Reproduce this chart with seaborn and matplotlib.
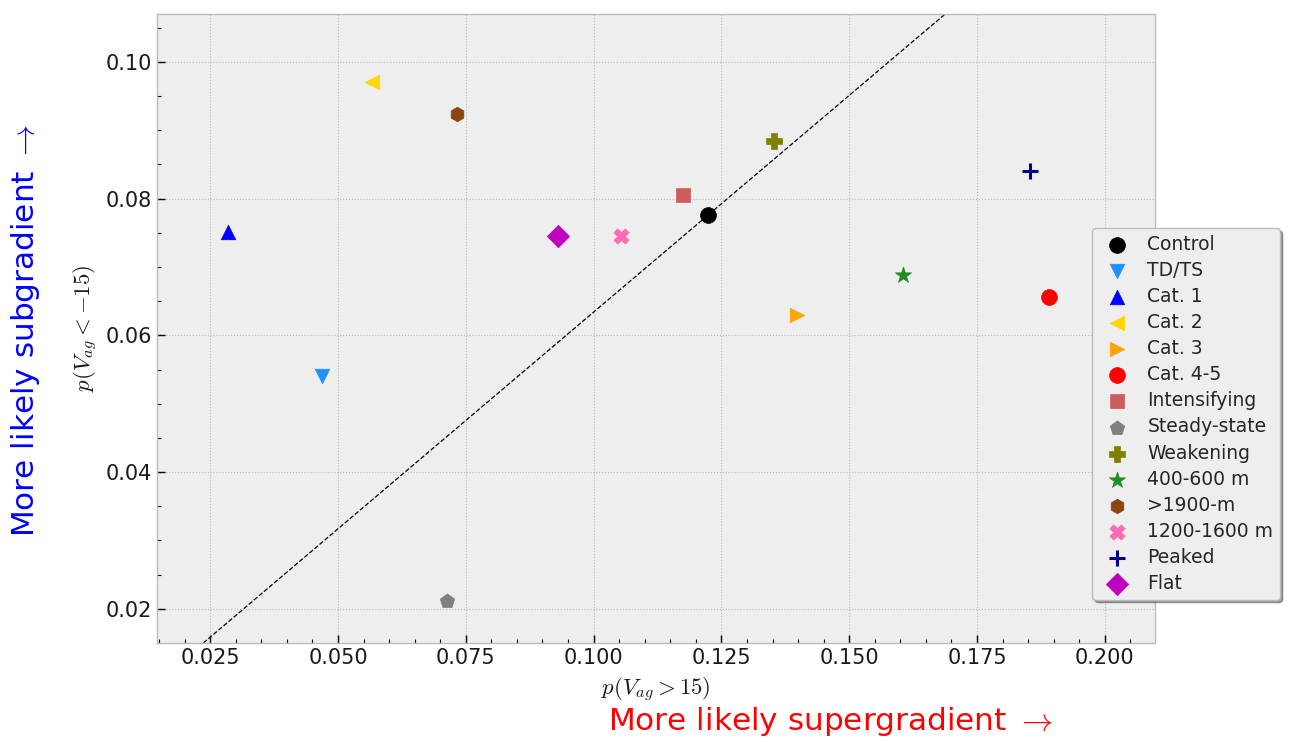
import matplotlib
matplotlib.use("Agg")
import matplotlib.pyplot as plt
import seaborn as sns
import numpy as np
from matplotlib.ticker import MultipleLocator

categories = ["Control", "TD/TS", "Cat. 1", "Cat. 2", "Cat. 3", "Cat. 4-5",
              "Intensifying", "Steady-state", "Weakening", "400-600 m",
              ">1900-m", "1200-1600 m", "Peaked", "Flat"]
p_super = [0.1224, 0.0469, 0.0285, 0.0567, 0.1398, 0.1891,
           0.1175, 0.0713, 0.1353, 0.1605, 0.0733, 0.1054, 0.1853, 0.0930]
p_sub = [0.0776, 0.0541, 0.0751, 0.0971, 0.0630, 0.0656,
         0.0805, 0.0212, 0.0884, 0.0688, 0.0924, 0.0746, 0.0841, 0.0746]
colors = ["black", "dodgerblue", "blue", "gold", "orange", "red",
          "indianred", "gray", "olive", "forestgreen", "saddlebrown",
          "hotpink", "navy", "m"]
markers = ["o", "v", "^", "<", ">", "o", "s", "p", "P", "*", "h", "X", "+", "D"]
sizes = [130, 110, 110, 110, 110, 130, 110, 120, 120, 150, 110, 120, 120, 130]

sns.set_style("darkgrid")
plt.rcParams["mathtext.fontset"] = "cm"
plt.rcParams["font.family"] = ["DejaVu Sans"]

fig = plt.figure(figsize=(12.9, 7.42), dpi=100)
ax = fig.add_axes([0.1217, 0.1334, 0.7736, 0.8477])
ax.set_facecolor("#eeeeee")

# diagonal reference line through origin and control point
slope = p_sub[0] / p_super[0]
ax.axline((0, 0), slope=slope, color="black", ls="--", lw=0.9, zorder=1)

for name, xv, yv, c, m, s in zip(categories, p_super, p_sub, colors, markers, sizes):
    if m == "+":
        sns.scatterplot(x=[xv], y=[yv], marker=m, color=c, s=s, linewidth=2.2,
                        label=name, ax=ax, zorder=3)
    else:
        sns.scatterplot(x=[xv], y=[yv], marker=m, color=c, s=s, edgecolor=c,
                        linewidth=0.5, label=name, ax=ax, zorder=3)

ax.set_xlim(0.0146, 0.2098)
ax.set_ylim(0.0150, 0.1070)
ax.xaxis.set_major_locator(MultipleLocator(0.025))
ax.xaxis.set_minor_locator(MultipleLocator(0.005))
ax.yaxis.set_major_locator(MultipleLocator(0.02))
ax.yaxis.set_minor_locator(MultipleLocator(0.005))
ax.xaxis.set_major_formatter(matplotlib.ticker.FormatStrFormatter("%.3f"))
ax.yaxis.set_major_formatter(matplotlib.ticker.FormatStrFormatter("%.2f"))
ax.tick_params(which="major", direction="in", length=6, width=1, labelsize=15,
               color="black", labelcolor="#1a1a1a", bottom=True, left=True)
ax.tick_params(which="minor", direction="in", length=3, width=0.8,
               color="black", bottom=True, left=True)
ax.grid(True, which="major", color="#b8b8b8", linestyle=":", linewidth=0.8)
ax.grid(False, which="minor")
for sp in ax.spines.values():
    sp.set_color("#bcbcbc")
    sp.set_linewidth(1)
    sp.set_visible(True)

ax.set_xlabel(r"$p(V_{ag} > 15)$", fontsize=16.5, labelpad=6, color="#1a1a1a")
ax.set_ylabel(r"$p(V_{ag} < -15)$", fontsize=16.5, labelpad=4, color="#1a1a1a")

fig.text(0.0194, 0.555, r"More likely subgradient $\rightarrow$", color="blue",
         fontsize=22.4, rotation=90, ha="center", va="center")
fig.text(0.644, 0.027, r"More likely supergradient $\rightarrow$", color="red",
         fontsize=22.4, ha="center", va="center")

leg = ax.legend(loc="upper left", bbox_to_anchor=(0.8465, 0.6927),
                bbox_transform=fig.transFigure, fontsize=13.5, frameon=True,
                shadow=True, fancybox=True, facecolor="#eeeeee",
                edgecolor="#bcbcbc", labelspacing=0.38, handletextpad=0.6,
                borderpad=0.35, borderaxespad=0, markerscale=1.0)
leg.get_frame().set_alpha(1)

fig.savefig("out.png", dpi=100)
